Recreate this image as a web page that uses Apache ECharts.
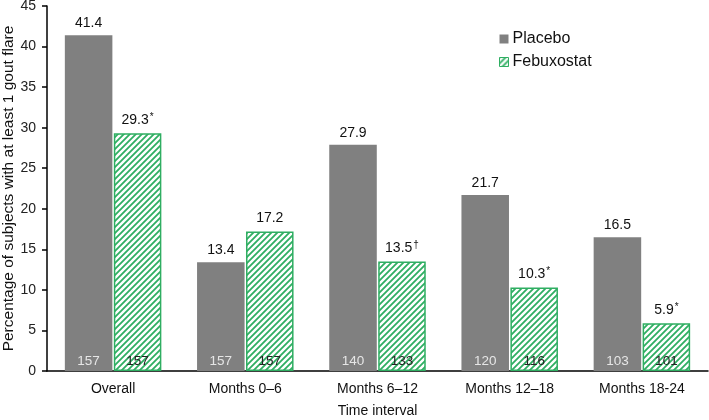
<!DOCTYPE html>
<html><head><meta charset="utf-8">
<script src="https://cdn.jsdelivr.net/npm/echarts@6/dist/echarts.min.js"></script>
<style>html,body{margin:0;padding:0;background:#fff}#c{width:709px;height:420px}</style>
</head><body><div id="c"></div>
<script>
var categories = ['Overall', 'Months 0–6', 'Months 6–12', 'Months 12–18', 'Months 18-24'];
var placebo = [41.4, 13.4, 27.9, 21.7, 16.5];
var febuxostat = [29.3, 17.2, 13.5, 10.3, 5.9];
var placeboN = [157, 157, 140, 120, 103];
var febuxostatN = [157, 157, 133, 116, 101];
var febuxostatMarks = ['*', '', '†', '*', '*'];
var yTicks = [0, 5, 10, 15, 20, 25, 30, 35, 40, 45];

var GREEN = '#2fae62';
var GRAY = '#808080';
var FONT = 'Liberation Sans, Arial, sans-serif';

function hatch() {
  var s = 6, c = document.createElement('canvas');
  c.width = s; c.height = s;
  var g = c.getContext('2d');
  g.fillStyle = '#fff'; g.fillRect(0, 0, s, s);
  g.strokeStyle = GREEN; g.lineWidth = 1.8;
  g.beginPath();
  g.moveTo(-1, s + 1); g.lineTo(s + 1, -1);
  g.moveTo(-1, 1); g.lineTo(1, -1);
  g.moveTo(s - 1, s + 1); g.lineTo(s + 1, s - 1);
  g.stroke();
  return c;
}
var pat = {image: hatch(), repeat: 'repeat'};
var zeros = categories.map(function () { return 0; });

var chart = echarts.init(document.getElementById('c'));
var topLabel = {fontFamily: FONT, fontSize: 14, color: '#111', lineHeight: 16};
chart.setOption({
  animation: false,
  grid: {left: 47, right: 1, top: 6, bottom: 49, outerBoundsMode: 'none', containLabel: false},
  legend: {
    orient: 'vertical', left: 494, top: 26, itemWidth: 9, itemHeight: 9, itemGap: 7,
    textStyle: {fontFamily: FONT, fontSize: 16, color: '#111', padding: [0, 0, 0, -1]},
    data: [
      {name: 'Placebo', icon: 'rect', itemStyle: {color: GRAY, borderWidth: 0}},
      {name: 'Febuxostat', icon: 'rect', itemStyle: {color: pat, borderColor: GREEN, borderWidth: 1}}
    ]
  },
  xAxis: {
    type: 'category', data: categories,
    name: 'Time interval', nameLocation: 'middle', nameGap: 33, nameMoveOverlap: false,
    nameTextStyle: {fontFamily: FONT, fontSize: 14, color: '#111'},
    axisLine: {lineStyle: {color: '#000', width: 1.5}},
    axisTick: {show: false},
    axisLabel: {fontFamily: FONT, fontSize: 14, color: '#111', margin: 11}
  },
  yAxis: {
    type: 'value', min: 0, max: 45, interval: 5,
    name: 'Percentage of subjects with at least 1 gout flare', nameLocation: 'middle', nameGap: 30, nameMoveOverlap: false,
    nameTextStyle: {fontFamily: FONT, fontSize: 15.5, color: '#111'},
    axisLine: {show: true, lineStyle: {color: '#000', width: 1.5}},
    axisTick: {show: true, inside: false, length: 5, lineStyle: {color: '#000', width: 1.5}},
    splitLine: {show: false},
    axisLabel: {fontFamily: FONT, fontSize: 14, color: '#222', margin: 11,
      formatter: function (v) { return yTicks.indexOf(v) >= 0 ? String(v) : ''; }}
  },
  series: [
    {
      name: 'Placebo', type: 'bar', data: zeros, stack: 'p', z: 5, silent: true,
      barCategoryGap: '27%', barGap: '3%',
      itemStyle: {color: 'transparent'},
      label: {show: true, position: 'insideBottom', distance: 3, fontFamily: FONT, fontSize: 13.5, color: '#e6e6e6',
        formatter: function (p) { return String(placeboN[p.dataIndex]); }}
    },
    {
      name: 'Placebo', type: 'bar', data: placebo, stack: 'p', z: 2,
      itemStyle: {color: GRAY},
      label: {show: true, position: 'top', distance: 5, fontFamily: FONT, fontSize: 14, color: '#111'}
    },
    {
      name: 'Febuxostat', type: 'bar', data: zeros, stack: 'f', z: 5, silent: true,
      itemStyle: {color: 'transparent'},
      label: {show: true, position: 'insideBottom', distance: 3, fontFamily: FONT, fontSize: 13.5, color: '#222',
        formatter: function (p) { return String(febuxostatN[p.dataIndex]); }}
    },
    {
      name: 'Febuxostat', type: 'bar', data: febuxostat, stack: 'f', z: 2,
      barCategoryGap: '27%', barGap: '3%',
      itemStyle: {color: pat, borderColor: GREEN, borderWidth: 1.5},
      label: {show: true, position: 'top', distance: 5,
        formatter: function (p) { var m = febuxostatMarks[p.dataIndex]; return '{a|' + p.value.toFixed(1) + '}' + (m ? '{s|' + m + '}' : ''); },
        rich: {a: topLabel, s: {fontFamily: FONT, fontSize: 10, color: '#111', verticalAlign: 'top', lineHeight: 16, padding: [0, 0, 4, 1]}}
      }
    }
  ]
});
</script></body></html>
